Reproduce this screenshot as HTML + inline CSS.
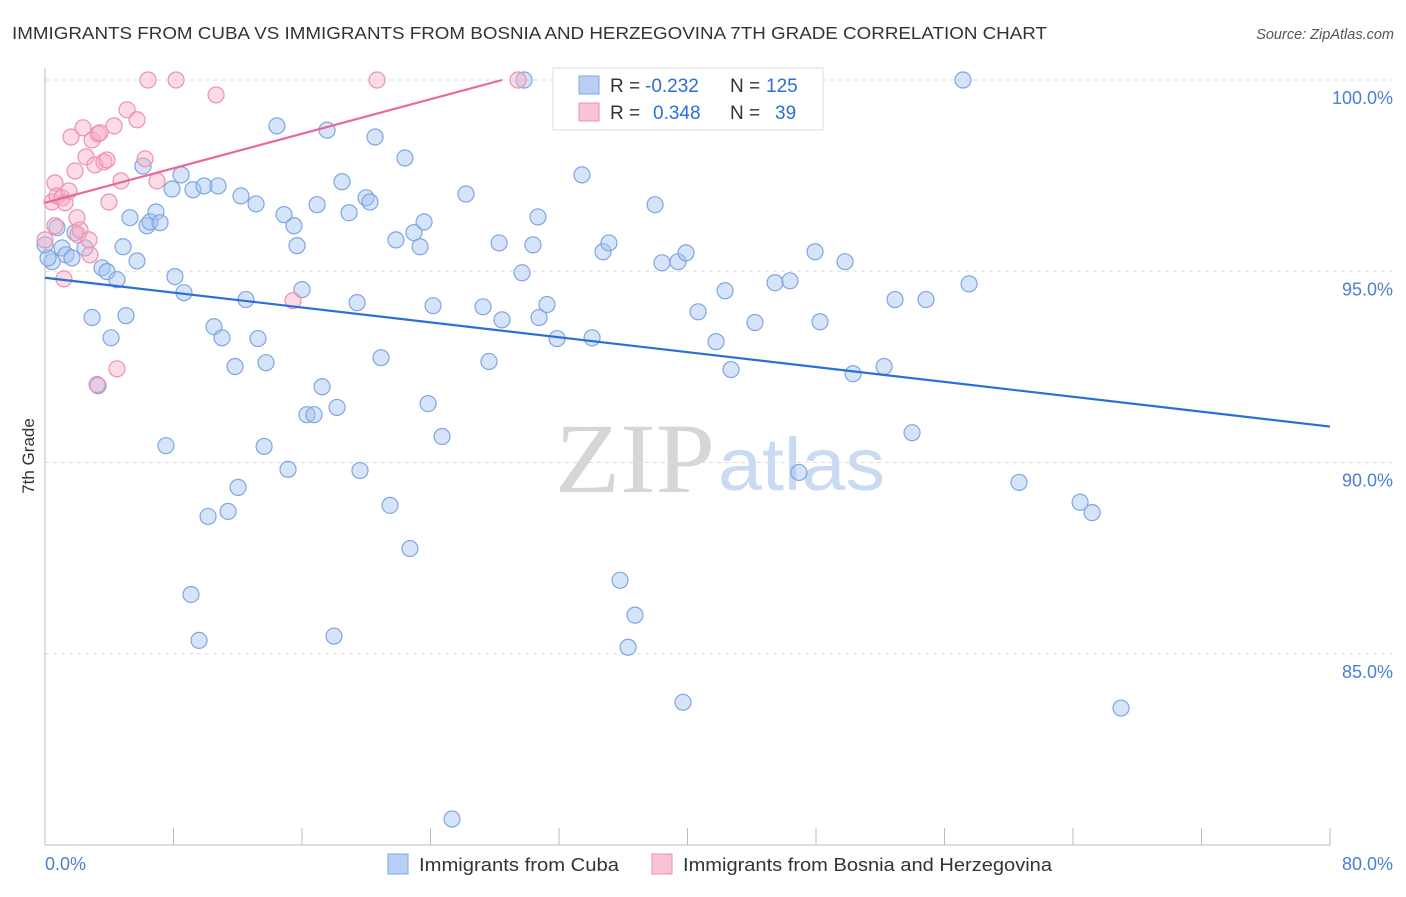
<!DOCTYPE html>
<html><head><meta charset="utf-8"><style>
body{margin:0;background:#fff;font-family:"Liberation Sans",sans-serif;}
</style></head><body>
<svg id="chart" width="1406" height="892" font-family="Liberation Sans, sans-serif">
<text x="12" y="39" font-size="17.5" fill="#333" textLength="1035" lengthAdjust="spacingAndGlyphs">IMMIGRANTS FROM CUBA VS IMMIGRANTS FROM BOSNIA AND HERZEGOVINA 7TH GRADE CORRELATION CHART</text>
<text x="1394" y="39" font-size="14.5" fill="#555" font-style="italic" text-anchor="end">Source: ZipAtlas.com</text>
<text transform="translate(34,456) rotate(-90)" font-size="17" fill="#333" text-anchor="middle">7th Grade</text>
<g><text x="555" y="492" font-size="100" fill="#d6d6d6" style="font-family:'Liberation Serif',serif" textLength="160" lengthAdjust="spacingAndGlyphs">ZIP</text><text x="718" y="490" font-size="74" fill="#c9daf2" textLength="167" lengthAdjust="spacingAndGlyphs">atlas</text></g>
<g id="grid"></g><g id="axes"></g><g id="pts"></g><g id="lines"></g>
<g>
<rect x="553" y="68" width="270" height="62" fill="#fff" stroke="#ddd"/>
<rect x="579" y="76" width="20" height="18" fill="#b8cff5" stroke="#7fa6e0"/>
<rect x="579" y="103" width="20" height="18" fill="#f8c4d6" stroke="#f08fb0"/>
<text x="610" y="92" font-size="19" fill="#333">R =</text><text x="645" y="92" font-size="19" fill="#2a6fd6">-0.232</text>
<text x="730" y="92" font-size="19" fill="#333">N =</text><text x="766" y="92" font-size="19" fill="#2a6fd6">125</text>
<text x="610" y="119" font-size="19" fill="#333">R =</text><text x="653" y="119" font-size="19" fill="#2a6fd6">0.348</text>
<text x="730" y="119" font-size="19" fill="#333">N =</text><text x="775" y="119" font-size="19" fill="#2a6fd6">39</text>
</g>
<g>
<rect x="388" y="854" width="20" height="20" fill="#b8cff5" stroke="#7fa6e0"/>
<text x="419" y="871" font-size="18" fill="#333" textLength="200" lengthAdjust="spacingAndGlyphs">Immigrants from Cuba</text>
<rect x="652" y="854" width="20" height="20" fill="#f8c4d6" stroke="#f08fb0"/>
<text x="683" y="871" font-size="18" fill="#333" textLength="369" lengthAdjust="spacingAndGlyphs">Immigrants from Bosnia and Herzegovina</text>
</g>
</svg>
<script>
const blueX=[.44,.19,0,.75,1.06,1.31,1.68,1.87,2.49,2.93,3.30,3.55,3.86,4.11,4.48,4.86,5.04,5.29,5.73,6.10,6.35,6.54,6.91,7.16,7.53,8.09,7.91,8.47,8.65,9.09,9.21,9.59,9.90,10.15,10.52,10.77,11.02,11.40,11.83,12.02,12.20,12.51,13.14,13.26,13.64,13.76,14.44,14.88,15.13,15.50,15.69,16.00,16.31,16.75,16.94,17.25,17.56,17.99,18.18,18.49,18.93,19.43,19.61,19.99,20.23,20.55,20.92,21.48,21.85,22.41,22.72,22.97,23.35,23.60,23.85,24.16,24.72,25.34,26.21,27.27,27.64,28.27,28.45,29.70,29.82,30.38,30.69,30.76,31.25,31.88,33.43,34.06,34.74,35.11,35.80,36.30,36.73,37.98,38.41,39.41,39.72,39.91,40.66,41.78,42.34,42.71,44.20,45.45,46.38,46.94,47.94,48.25,49.81,50.31,52.24,52.92,53.98,54.85,57.15,57.53,60.64,64.44,65.19,66.99];
const blueY=[95.25,95.35,95.69,96.14,95.61,95.43,95.35,96.01,95.61,93.79,92.01,95.09,94.99,93.26,94.78,95.64,93.84,96.40,95.27,97.75,96.19,96.29,96.55,96.27,90.44,94.86,97.15,97.52,94.44,86.55,97.13,85.35,97.23,88.59,93.55,97.23,93.26,88.72,92.51,89.35,96.97,94.26,96.76,93.24,90.42,92.61,98.80,96.48,89.82,96.19,95.67,94.52,91.25,91.25,96.74,91.98,98.69,85.46,91.44,97.34,96.53,94.18,89.79,96.92,96.81,98.51,92.74,88.88,95.82,97.96,87.75,96.01,95.64,96.29,91.54,94.10,90.68,80.68,97.02,94.07,92.64,95.74,93.73,94.96,100,95.69,96.42,93.79,94.13,93.24,97.52,93.26,95.51,95.74,86.92,85.17,86.01,96.74,95.22,95.25,83.73,95.48,93.94,93.16,94.49,92.43,93.66,94.70,94.75,89.74,95.51,93.68,95.25,92.32,92.51,94.26,90.78,94.26,100,94.67,89.48,88.96,88.69,83.58];
const pinkX=[0,.44,.62,.75,1.06,1.25,1.49,1.62,1.87,1.99,2.05,2.18,2.37,2.55,2.74,2.93,3.11,3.24,3.30,3.42,3.67,3.86,3.98,4.30,4.48,4.73,5.11,5.73,6.23,6.41,6.97,8.16,10.65,15.44,20.67,29.45,1.18,2.80,.62];
const pinkY=[95.82,96.81,97.31,96.97,96.92,96.79,97.10,98.51,97.62,96.40,95.95,96.08,98.75,97.99,95.82,98.43,97.78,92.04,98.59,98.62,97.86,97.91,96.81,98.80,92.45,97.36,99.22,98.96,97.94,100,97.36,100,99.61,94.23,100,100,94.80,95.43,96.19];
const yTicks=[100,95,90,85];
const yTickLabels=["100.0%","95.0%","90.0%","85.0%"];
const xTicks=[0,8,16,24,32,40,48,56,64,72,80];
const blueTrend=[[0,94.83],[80,90.94]];
const pinkTrend=[[0,96.79],[28.46,100]];
const X0=45,X1=1330,YT=80,YB=845;
const sx=v=>X0+(v/80)*(X1-X0);
const sy=v=>YT+(100-v)/20*(YB-YT);
const NS="http://www.w3.org/2000/svg";
function mk(tag,attrs,parent){const e=document.createElementNS(NS,tag);for(const k in attrs)e.setAttribute(k,attrs[k]);document.getElementById(parent).appendChild(e);return e;}
yTicks.forEach((t,i)=>{
 const g=mk('line',{x1:X0,x2:1392,y1:sy(t),y2:sy(t),stroke:'#ddd','stroke-dasharray':'4,4'},'grid');
 
 
 const l=mk('text',{x:1393,y:sy(t)+24,'font-size':18,fill:'#4a7fd4','text-anchor':'end'},'grid');
 l.textContent=yTickLabels[i];
 
 
});
const ax=mk('line',{x1:X0,x2:X0,y1:68,y2:YB,stroke:'#bbb'},'axes');


const bx=mk('line',{x1:X0,x2:X1,y1:YB,y2:YB,stroke:'#bbb'},'axes');


xTicks.forEach(t=>{
 const k=mk('line',{x1:sx(t),x2:sx(t),y1:828,y2:YB,stroke:'#bbb'},'axes');
 
 
});
const xl0=mk('text',{x:45,y:870,'font-size':18,fill:'#4a7fd4'},'axes');xl0.textContent='0.0%';


const xl1=mk('text',{x:1393,y:870,'font-size':18,fill:'#4a7fd4','text-anchor':'end'},'axes');xl1.textContent='80.0%';


blueX.forEach((x,i)=>{
 const c=mk('circle',{cx:sx(x),cy:sy(blueY[i]),r:8,fill:'rgba(165,195,242,0.45)',stroke:'#7fa6e0','stroke-width':1.2},'pts');
 
 
});
pinkX.forEach((x,i)=>{
 const c=mk('circle',{cx:sx(x),cy:sy(pinkY[i]),r:8,fill:'rgba(246,175,200,0.45)',stroke:'#f08fb0','stroke-width':1.2},'pts');
 
 
});
const bl=mk('line',{x1:sx(blueTrend[0][0]),y1:sy(blueTrend[0][1]),x2:sx(blueTrend[1][0]),y2:sy(blueTrend[1][1]),stroke:'#2a6fd6','stroke-width':2.2},'lines');


const pl=mk('line',{x1:sx(pinkTrend[0][0]),y1:sy(pinkTrend[0][1]),x2:sx(pinkTrend[1][0]),y2:sy(pinkTrend[1][1]),stroke:'#e8679a','stroke-width':2.2},'lines');


</script>
</body></html>
